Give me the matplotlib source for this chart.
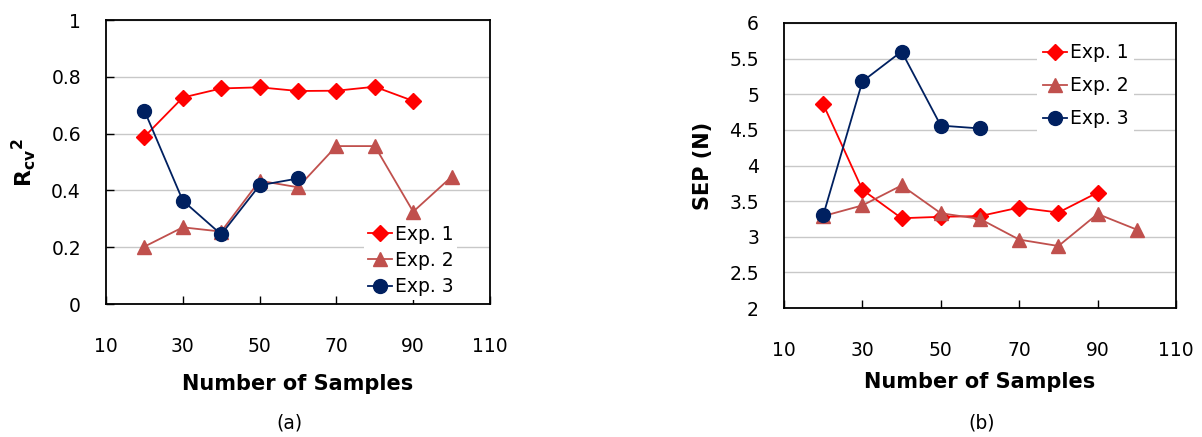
import matplotlib
matplotlib.use("Agg")
import matplotlib.pyplot as plt

plt.rcParams['font.family'] = ['DejaVu Sans']
plt.rcParams['mathtext.fontset'] = 'dejavusans'

# data
n_exp1 = [20, 30, 40, 50, 60, 70, 80, 90]
n_exp2 = [20, 30, 40, 50, 60, 70, 80, 90, 100]
n_exp3 = [20, 30, 40, 50, 60]

r2_exp1 = [0.589, 0.727, 0.759, 0.763, 0.750, 0.751, 0.765, 0.715]
r2_exp2 = [0.202, 0.270, 0.255, 0.434, 0.411, 0.556, 0.556, 0.325, 0.448]
r2_exp3 = [0.681, 0.364, 0.245, 0.418, 0.442]

sep_exp1 = [4.86, 3.66, 3.26, 3.28, 3.29, 3.41, 3.34, 3.62]
sep_exp2 = [3.29, 3.44, 3.72, 3.33, 3.25, 2.96, 2.87, 3.32, 3.10]
sep_exp3 = [3.30, 5.18, 5.60, 4.56, 4.52]

labels = ['Exp. 1', 'Exp. 2', 'Exp. 3']
colors = ['#FF0000', '#C0504D', '#002060']
markers = ['D', '^', 'o']
msizes = [8, 10, 10]
xticks = [10, 30, 50, 70, 90, 110]

W, H = 1202, 437
fig = plt.figure(figsize=(W / 100, H / 100), dpi=100)


def px_axes(l, t, r, b):
    return fig.add_axes([l / W, 1 - b / H, (r - l) / W, (b - t) / H])


def style(ax, ylim, yticks, ylabels, left_ticks):
    ax.set_xlim(10, 110)
    ax.set_ylim(*ylim)
    ax.set_xticks(xticks)
    ax.set_yticks(yticks)
    ax.set_yticklabels(ylabels)
    ax.grid(axis='y', color='#C8C8C8', linewidth=1.0)
    ax.set_axisbelow(True)
    for s in ax.spines.values():
        s.set_linewidth(1.3)
        s.set_color('black')
    ax.tick_params(axis='x', direction='in', length=6, width=1, pad=24, labelsize=13.5, colors='black')
    ax.tick_params(axis='y', direction='in', length=6 if left_ticks else 0, width=1, pad=18, labelsize=13.5)


def draw(ax, xs, ys):
    for x, y, lab, c, m, ms in zip(xs, ys, labels, colors, markers, msizes):
        ax.plot(x, y, color=c, marker=m, markersize=ms, linewidth=1.3, label=lab, clip_on=False)


# (a)
ax1 = px_axes(106, 20, 490, 304)
draw(ax1, [n_exp1, n_exp2, n_exp3], [r2_exp1, r2_exp2, r2_exp3])
style(ax1, (0, 1), [0, 0.2, 0.4, 0.6, 0.8, 1], ['0', '0.2', '0.4', '0.6', '0.8', '1'], True)
ax1.set_xlabel('Number of Samples', fontsize=15, fontweight='bold')
ax1.xaxis.set_label_coords(0.5, -0.245)
ax1.set_ylabel(r'$\mathbf{R_{cv}}^{\mathbf{2}}$', fontsize=16)
ax1.yaxis.set_label_coords(-0.178, 0.5)
ax1.legend(loc='upper left', bbox_to_anchor=(0.647, 0.325), fontsize=13.5, frameon=True,
           facecolor='white', edgecolor='none', framealpha=1, fancybox=False,
           handlelength=1.3, handletextpad=0.15, labelspacing=0.38, borderpad=0.2)

# (b)
ax2 = px_axes(784, 23, 1176, 308)
draw(ax2, [n_exp1, n_exp2, n_exp3], [sep_exp1, sep_exp2, sep_exp3])
style(ax2, (2, 6), [2, 2.5, 3, 3.5, 4, 4.5, 5, 5.5, 6],
      ['2', '2.5', '3', '3.5', '4', '4.5', '5', '5.5', '6'], False)
ax2.set_xlabel('Number of Samples', fontsize=15, fontweight='bold')
ax2.xaxis.set_label_coords(0.5, -0.225)
ax2.set_ylabel('SEP (N)', fontsize=15, fontweight='bold')
ax2.yaxis.set_label_coords(-0.18, 0.5)
ax2.legend(loc='upper left', bbox_to_anchor=(0.622, 0.982), fontsize=13.5, frameon=True,
           facecolor='white', edgecolor='none', framealpha=1, fancybox=False,
           handlelength=1.3, handletextpad=0.15, labelspacing=0.75, borderpad=0.3)

fig.text(289 / W, 1 - 423 / H, '(a)', fontsize=13.5, ha='center', va='center')
fig.text(982 / W, 1 - 423 / H, '(b)', fontsize=13.5, ha='center', va='center')

fig.savefig('out.png', dpi=100)
